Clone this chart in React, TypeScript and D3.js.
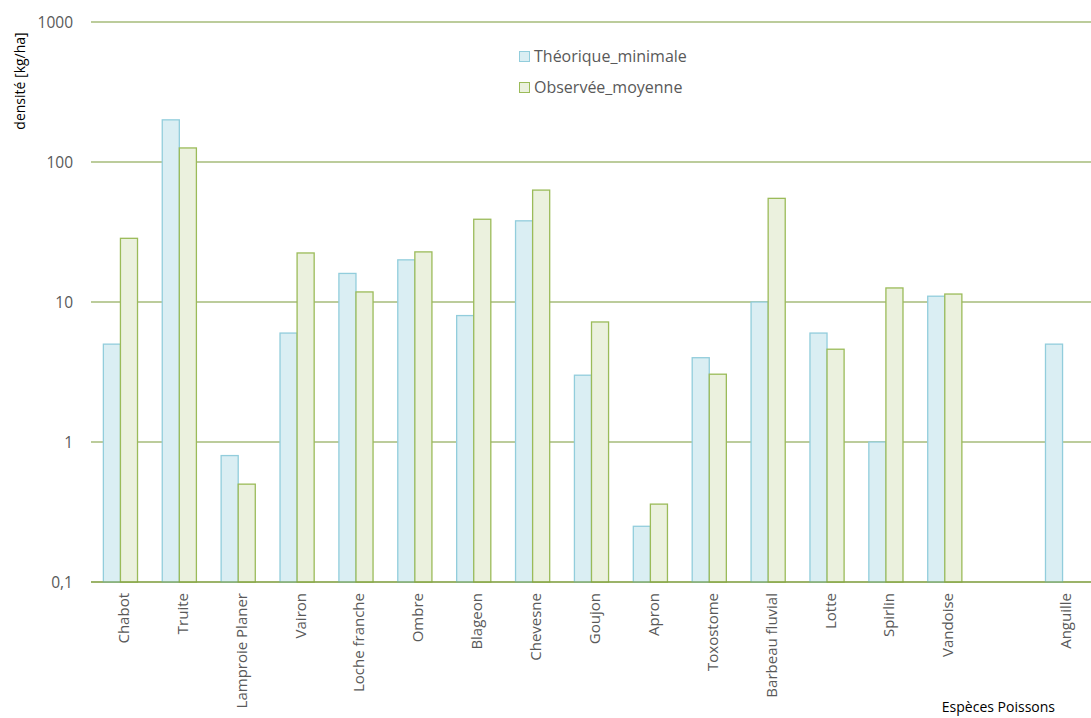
import React from "react";
import * as d3 from "d3";

const categories = ["Chabot", "Truite", "Lamproie Planer", "Vairon", "Loche franche", "Ombre", "Blageon", "Chevesne", "Goujon", "Apron", "Toxostome", "Barbeau fluvial", "Lotte", "Spirlin", "Vandoise", "", "Anguille"];
const theorique: (number | null)[] = [5, 200, 0.8, 6, 16, 20, 8, 38, 3, 0.25, 4, 10, 6, 1, 11, null, 5];
const observee: (number | null)[] = [28.5, 126, 0.5, 22.4, 11.8, 22.8, 39, 63, 7.2, 0.36, 3.05, 55, 4.6, 12.6, 11.4, null, null];
const yTicks = [0.1, 1, 10, 100, 1000];
const yTickLabels = ["0,1", "1", "10", "100", "1000"];
const seriesNames = ["Théorique_minimale", "Observée_moyenne"];

const W = 1091, H = 718;
const FONT = "'Open Sans', 'Noto Sans', sans-serif";
const TEXT = "#595959";
const GRID = "#7A9A38";
const BLUE_FILL = "#DAEEF3", BLUE_STROKE = "#92CDDC";
const GREEN_FILL = "#EBF1DE", GREEN_STROKE = "#9BBB59";

export default function App() {
  const keys = categories.map((c, i) => i + ":" + c);
  const x = d3.scaleBand<string>().domain(keys).range([91, 1092]).paddingInner(0).paddingOuter(0);
  const y = d3.scaleLog().domain([0.1, 1000]).range([582, 22]);
  const bw = x.bandwidth();
  const barW = bw * 0.29;
  const base = y(0.1);

  return (
    <svg width={W} height={H} style={{ position: "absolute", left: 0, top: 0, fontFamily: FONT }}>
      <rect width={W} height={H} fill="#fff" />
      {yTicks.map((t, i) => (
        <g key={t}>
          <line x1={91} x2={W} y1={y(t)} y2={y(t)} stroke={GRID} strokeWidth={1.2} />
          <text x={73} y={y(t)} dy="0.36em" textAnchor="end" fontSize={15.5} fill={TEXT}>{yTickLabels[i]}</text>
        </g>
      ))}
      {keys.map((k, i) => {
        const cx = (x(k) as number) + bw / 2;
        const t = theorique[i];
        const o = observee[i];
        return (
          <g key={k}>
            {t != null && (
              <rect x={cx - barW} y={y(t)} width={barW} height={base - y(t)} fill={BLUE_FILL} stroke={BLUE_STROKE} strokeWidth={1.3} />
            )}
            {o != null && (
              <rect x={cx} y={y(o)} width={barW} height={base - y(o)} fill={GREEN_FILL} stroke={GREEN_STROKE} strokeWidth={1.3} />
            )}
            <text transform={`translate(${cx + 8.5},593) rotate(-90)`} textAnchor="end" fontSize={15} fill={TEXT}>{categories[i]}</text>
          </g>
        );
      })}
      <line x1={91} x2={W} y1={base} y2={base} stroke={GRID} strokeWidth={1.2} />
      <text transform="translate(25,81) rotate(-90)" textAnchor="middle" fontSize={14} fill="#000">densité [kg/ha]</text>
      <rect x={519.5} y={51.5} width={10} height={10} fill={BLUE_FILL} stroke={BLUE_STROKE} />
      <text x={534} y={56.5} dy="0.36em" fontSize={16} fill={TEXT}>{seriesNames[0]}</text>
      <rect x={519.5} y={82.5} width={10} height={10} fill={GREEN_FILL} stroke={GREEN_STROKE} />
      <text x={534} y={87.5} dy="0.36em" fontSize={16} fill={TEXT}>{seriesNames[1]}</text>
      <text x={1055} y={712} textAnchor="end" fontSize={14} fill="#000">Espèces Poissons</text>
    </svg>
  );
}
